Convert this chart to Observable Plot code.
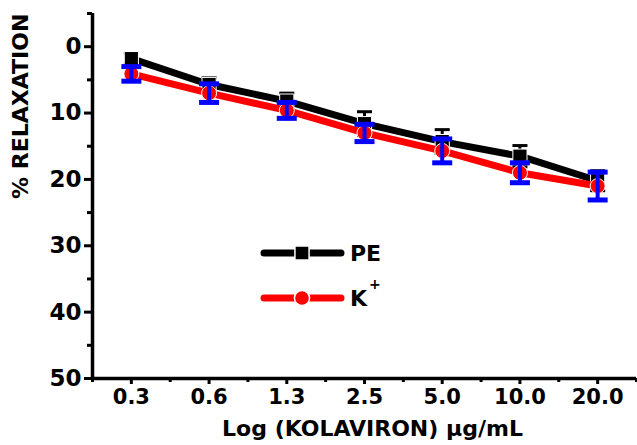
<!DOCTYPE html>
<html><head><meta charset="utf-8">
<script src="https://cdn.jsdelivr.net/npm/d3@7"></script>
<script src="https://cdn.jsdelivr.net/npm/@observablehq/plot@0.6"></script>
<style>html,body{margin:0;padding:0;background:#fff;}</style>
</head><body><div id="chart"></div>
<script>
// ---- data ----
const concentrations = ["0.3", "0.6", "1.3", "2.5", "5.0", "10.0", "20.0"];
const pe = [1.8, 5.7, 8.2, 11.6, 14.3, 16.5, 20.2];
const peErr = [0.8, 1.0, 1.2, 1.8, 1.8, 1.6, 1.5];
const kplus = [4.1, 7.0, 9.6, 13.0, 15.7, 19.0, 21.0];
const kErr = [1.1, 1.4, 1.2, 1.3, 1.8, 1.5, 2.1];
const yTicks = [0, 10, 20, 30, 40, 50];
const yMinorTicks = [-5, 5, 15, 25, 35, 45];
const seriesNames = ["PE", "K"];
const xTitle = "Log (KOLAVIRON) µg/mL";
const yTitle = "% RELAXATION";

// ---- derived ----
const xDomain = [-0.5, concentrations.length - 0.5];
const yDomain = [50, -5];
const idx = concentrations.map((_, i) => i);
const xMinorTicks = d3.range(xDomain[0], xDomain[1] + 0.01, 1);
const rows = (vals, errs) => idx.map(i => ({i, v: vals[i], lo: vals[i] - errs[i], hi: vals[i] + errs[i]}));
const peRows = rows(pe, peErr);
const kRows = rows(kplus, kErr);
const cap = half => ({draw(ctx) { ctx.moveTo(-half, 0); ctx.lineTo(half, 0); }});

const W = 637, H = 445;
const font = "DejaVu Sans";

const chart = Plot.plot({
  width: W, height: H,
  marginLeft: 92, marginRight: 1, marginTop: 13, marginBottom: 67,
  style: {fontFamily: font, fontWeight: "bold", background: "white", color: "black", overflow: "visible"},
  x: {domain: xDomain, label: null},
  y: {domain: yDomain, label: null},
  marks: [
    // PE series
    Plot.ruleX(peRows, {x: "i", y1: "lo", y2: "hi", stroke: "black", strokeWidth: 3}),
    Plot.dot(peRows, {x: "i", y: "hi", symbol: cap(7.5), fill: "none", stroke: "black", strokeWidth: 3}),
    Plot.dot(peRows, {x: "i", y: "lo", symbol: cap(7.5), fill: "none", stroke: "black", strokeWidth: 3}),
    Plot.line(peRows, {x: "i", y: "v", stroke: "black", strokeWidth: 7, strokeLinecap: "round"}),
    Plot.dot(peRows, {x: "i", y: "v", symbol: "square", r: 8, fill: "black", stroke: "white", strokeWidth: 1}),
    // K+ series
    Plot.line(kRows, {x: "i", y: "v", stroke: "#ff0000", strokeWidth: 7, strokeLinecap: "round"}),
    Plot.dot(kRows, {x: "i", y: "v", symbol: "circle", r: 7.5, fill: "#ff0000", stroke: "white", strokeWidth: 1}),
    Plot.ruleX(kRows, {x: "i", y1: "lo", y2: "hi", stroke: "#0000ff", strokeWidth: 4}),
    Plot.dot(kRows, {x: "i", y: "hi", symbol: cap(10), fill: "none", stroke: "#0000ff", strokeWidth: 5}),
    Plot.dot(kRows, {x: "i", y: "lo", symbol: cap(10), fill: "none", stroke: "#0000ff", strokeWidth: 5}),
    // axes
    Plot.ruleX([xDomain[0]], {stroke: "black", strokeWidth: 3.5}),
    Plot.ruleY([yDomain[0]], {stroke: "black", strokeWidth: 3.5}),
    Plot.axisY(yTicks, {tickSize: 8, tickPadding: 3, strokeWidth: 3, fontSize: 23, fontWeight: "bold", label: null}),
    Plot.axisY(yMinorTicks, {tickSize: 5, strokeWidth: 3, tickFormat: () => "", label: null}),
    Plot.axisX(idx, {tickSize: 6, tickPadding: 5, strokeWidth: 3, fontSize: 21, fontWeight: "bold", tickFormat: i => concentrations[i], label: null}),
    Plot.axisX(xMinorTicks, {tickSize: 4, strokeWidth: 3, tickFormat: () => "", label: null}),
    // axis titles
    Plot.text([yTitle], {frameAnchor: "left", dx: -72, dy: 3, rotate: -90, fontSize: 22, fontWeight: "bold", fill: "black"}),
    Plot.text([xTitle], {frameAnchor: "bottom", dx: 8, dy: 57, fontSize: 22, fontWeight: "bold", fill: "black"})
  ]
});
document.getElementById("chart").appendChild(chart);

// ---- legend (pixel layout) ----
const svg = d3.select(chart);
const lg = svg.append("g").attr("text-anchor", "start");
const items = [
  {name: seriesNames[0], color: "black", symbol: d3.symbolSquare, y: 253, sup: null},
  {name: seriesNames[1], color: "#ff0000", symbol: d3.symbolCircle, y: 298, sup: "+"}
];
items.forEach(it => {
  lg.append("line").attr("x1", 264).attr("x2", 341).attr("y1", it.y).attr("y2", it.y)
    .attr("stroke", it.color).attr("stroke-width", 7).attr("stroke-linecap", "round");
  lg.append("path").attr("d", d3.symbol(it.symbol, it.symbol === d3.symbolSquare ? 200 : 180)())
    .attr("transform", `translate(302,${it.y})`).attr("fill", it.color).attr("stroke", "white").attr("stroke-width", 1.5);
  lg.append("text").attr("x", 350).attr("y", it.y).attr("dy", "0.36em").attr("text-anchor", "start")
    .attr("font-family", font).attr("font-weight", "bold").attr("font-size", 22).attr("fill", "black").text(it.name);
  if (it.sup) {
    lg.append("text").attr("x", 369).attr("y", it.y - 9).attr("text-anchor", "start")
      .attr("font-family", font).attr("font-weight", "bold").attr("font-size", 14).attr("fill", "black").text(it.sup);
  }
});
</script>
</body></html>
